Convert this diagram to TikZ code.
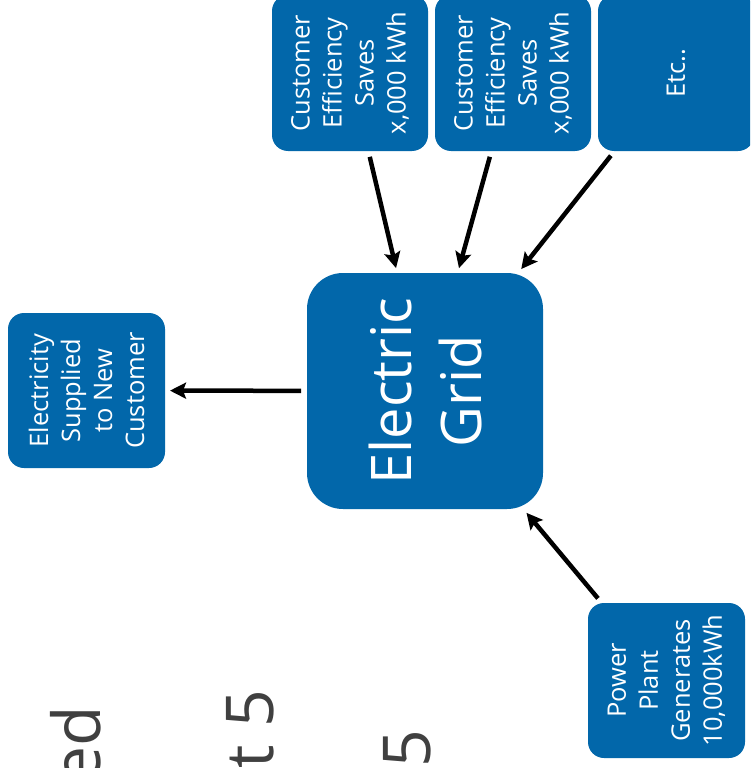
\documentclass[tikz,border=0pt]{standalone}
\usepackage{fontspec}
\setmainfont{Open Sans}
\usetikzlibrary{arrows.meta}
\definecolor{gridblue}{RGB}{2,103,170}
\definecolor{labelgray}{RGB}{64,64,64}
\begin{document}
\begin{tikzpicture}[x=1pt,y=-1pt,
  box/.style={rotate=90,fill=gridblue,text=white,align=center,inner sep=0pt,outer sep=0pt,
    rounded corners=16pt,font=\fontsize{25.5}{32}\selectfont},
  bigbox/.style={box,rounded corners=36pt,font=\fontsize{56}{70}\selectfont},
  flow/.style={-{Stealth[length=16pt,width=16pt,inset=3pt]},line width=4.5pt,
    shorten >=5pt,shorten <=6pt},
  faded/.style={rotate=90,anchor=base east,inner sep=0pt,text=labelgray,
    font=\fontsize{66}{70}\selectfont}]
\useasboundingbox (0,0) rectangle (750,768);
\clip (0,0) rectangle (750,768);

% rotated boxes: minimum width is the vertical extent, minimum height the horizontal one
\node[bigbox,minimum width=236pt,minimum height=236pt] (grid) at (425,391) {Electric\\Grid};
\node[box,minimum width=155pt,minimum height=157pt] (supply) at (86.5,390.5)
  {Electricity\\Supplied\\to New\\Customer};
\node[box,minimum width=156pt,minimum height=156pt] (eff1) at (350,73)
  {Customer\\Efficiency\\Saves\\x,000 kWh};
\node[box,minimum width=156pt,minimum height=156pt] (eff2) at (513,73)
  {Customer\\Efficiency\\Saves\\x,000 kWh};
\node[box,minimum width=156pt,minimum height=156pt] (etc) at (676,73) {Etc..};
\node[box,minimum width=155pt,minimum height=157pt] (plant) at (666.5,680.5)
  {Power\\Plant\\Generates\\10,000kWh};

% energy flows into and out of the grid
\draw[flow] (grid) -- (supply);
\draw[flow] (eff1) -- (grid);
\draw[flow] (eff2) -- (grid);
\draw[flow] (etc) -- (grid);
\draw[flow] (plant) -- (grid);

% large grey captions running off the lower edge
\node[faded] (capA) at (100,706) {ed};
\node[faded] (capB) at (273,690) {t 5};
\node[faded] (capC) at (430,730) {5};
\end{tikzpicture}
\end{document}
